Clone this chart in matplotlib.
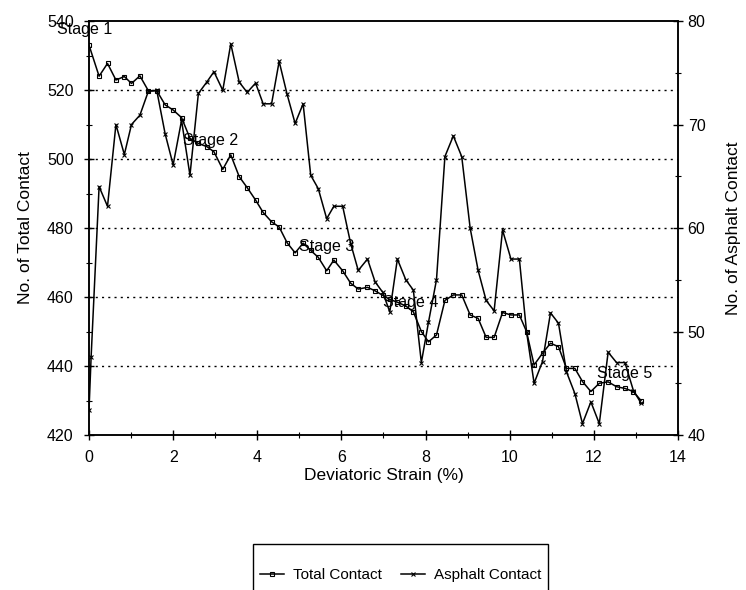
import matplotlib
matplotlib.use("Agg")
import matplotlib.pyplot as plt
from matplotlib.ticker import MultipleLocator
from matplotlib.lines import Line2D
from matplotlib.patches import Rectangle

plt.rcParams["font.family"] = ["Liberation Sans", "DejaVu Sans"]

# deviatoric strain (%) of each sample
strain = [0.0, 0.24, 0.44, 0.64, 0.84, 1.01, 1.21, 1.41, 1.61, 1.81,
          2.0, 2.2, 2.4, 2.6, 2.8, 2.97, 3.18, 3.37, 3.57, 3.76,
          3.96, 4.14, 4.34, 4.52, 4.71, 4.9, 5.09, 5.27, 5.45, 5.65,
          5.82, 6.03, 6.22, 6.4, 6.62, 6.8, 6.98, 7.15, 7.33, 7.53,
          7.71, 7.9, 8.07, 8.26, 8.46, 8.66, 8.86, 9.06, 9.25, 9.44,
          9.63, 9.83, 10.03, 10.23, 10.4, 10.58, 10.78, 10.97, 11.16, 11.35,
          11.55, 11.73, 11.93, 12.13, 12.34, 12.54, 12.74, 12.94, 13.12]

total_contact = [533, 524, 527.7, 522.9, 523.9, 521.9, 524.1, 519.8, 519.8, 515.7,
                 514.2, 512, 506, 504.5, 503.6, 502.1, 497, 501.2, 494.9, 491.7,
                 488.1, 484.5, 481.8, 480.3, 475.7, 472.8, 475.6, 473.5, 471.5, 467.6,
                 470.7, 467.6, 464, 462.3, 462.8, 461.8, 460.5, 459.3, 458.5, 457.4,
                 455.7, 450, 447, 449, 459, 460.6, 460.6, 454.8, 453.8, 448.3,
                 448.3, 455.5, 454.8, 454.8, 450, 440.3, 443.7, 446.6, 445.6, 439.3,
                 439.3, 435.5, 432.6, 435, 435.4, 434, 433.5, 432.6, 430]

# asphalt series has one extra early sample
asphalt_strain = [0.0, 0.05] + strain[1:]
asphalt_contact = [42.4, 47.5, 64.0, 62.1, 70, 67.1, 70, 70.9, 73.2, 73.3, 69.1,
                   66.1, 70.4, 65.1, 73.0, 74.1, 75.1, 73.3, 77.8, 74.1, 73.1,
                   74, 72, 72, 76.1, 72.9, 70.1, 72, 65.1, 63.8, 60.9,
                   62.1, 62.1, 58.5, 55.9, 57, 54.8, 53.8, 51.9, 57, 55,
                   54, 47, 50.9, 55, 66.9, 68.9, 66.9, 60, 55.9, 53,
                   52, 59.8, 57, 57, 50, 45, 47.1, 51.8, 50.8, 46.1,
                   44, 41.1, 43.2, 41.1, 48, 47, 47, 44.3, 43.1]

stage_labels = ["Stage 1", "Stage 2", "Stage 3", "Stage 4", "Stage 5"]
stage_x = [-0.76, 2.23, 5.0, 6.98, 12.07]
stage_y = [537.4, 505.5, 474.5, 458.3, 437.7]

fig = plt.figure(figsize=(7.46, 5.9), dpi=100)
ax = fig.add_axes([0.1193, 0.2627, 0.7895, 0.7017])
ax2 = ax.twinx()

ax.plot(strain, total_contact, color="black", lw=1.1, marker="s", ms=2.5,
        mfc="none", mew=0.8, zorder=3)
ax2.plot(asphalt_strain, asphalt_contact, color="black", lw=1.1, marker="x",
         ms=3.5, mew=0.8, zorder=3)

ax.set_xlim(0, 14)
ax.set_ylim(420, 540)
ax2.set_ylim(40, 80)

ax.xaxis.set_major_locator(MultipleLocator(2))
ax.xaxis.set_minor_locator(MultipleLocator(1))
ax.yaxis.set_major_locator(MultipleLocator(20))
ax.yaxis.set_minor_locator(MultipleLocator(10))
ax2.yaxis.set_major_locator(MultipleLocator(10))
ax2.yaxis.set_minor_locator(MultipleLocator(5))

for a in (ax, ax2):
    a.tick_params(which="major", direction="inout", length=7, width=1,
                  labelsize=11.5, colors="black")
    a.tick_params(which="minor", direction="inout", length=5, width=0.8)
    for s in a.spines.values():
        s.set_linewidth(1.1)
ax.tick_params(axis="x", which="major", pad=7.5)
ax.tick_params(axis="y", which="major", pad=7.5)

for yv in [440, 460, 480, 500, 520]:
    ax.axhline(yv, color="black", lw=1, ls=(0, (1.5, 3)), zorder=1)

ax.set_xlabel("Deviatoric Strain (%)", fontsize=12.5, labelpad=2)
ax.set_ylabel("No. of Total Contact", fontsize=12.5, labelpad=10)
ax2.set_ylabel("No. of Asphalt Contact", fontsize=12.5, labelpad=15)

for lab, sx, sy in zip(stage_labels, stage_x, stage_y):
    ax.text(sx, sy, lab, fontsize=11.5, ha="left", va="center", zorder=4,
            clip_on=False)

handles = [Line2D([], [], color="black", lw=1.1, marker="s", ms=2.5,
                  mfc="none", mew=0.8),
           Line2D([], [], color="black", lw=1.1, marker="x", ms=3.5, mew=0.8)]
leg = fig.legend(handles, ["Total Contact", "Asphalt Contact"], ncol=2,
                 loc="center", bbox_to_anchor=(0.537, 1 - 575 / 590),
                 fontsize=11, frameon=False, handlelength=1.6,
                 handletextpad=0.6, columnspacing=1.2, borderaxespad=0)

# legend frame runs off the bottom edge like in the source scan
fig.patches.append(Rectangle((253 / 746, -0.05), 295 / 746, 0.05 + 1 - 544 / 590,
                             transform=fig.transFigure, fill=False,
                             edgecolor="black", lw=1.0))

fig.savefig("out.png", dpi=100)
